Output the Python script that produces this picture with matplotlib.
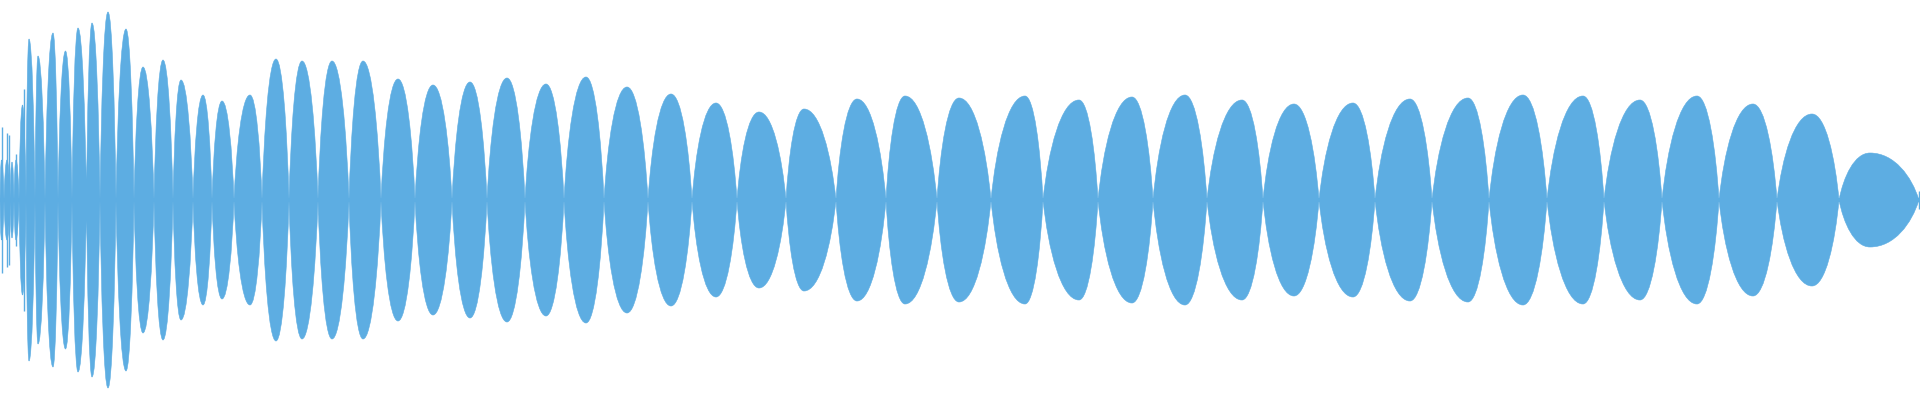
import matplotlib
matplotlib.use("Agg")
import matplotlib.pyplot as plt
from matplotlib.path import Path
from matplotlib.patches import PathPatch

# Waveform envelope (x in pixel-time bins, amplitude as fraction of full scale)
lobe_bounds = [0, 4, 10, 14, 19, 26, 35, 45, 58, 72, 86.5, 100,
               116, 134, 154, 173, 193, 212, 234, 262, 289, 318, 349, 381,
               415, 452, 487, 525, 564, 604, 648, 692, 737, 786, 836, 886,
               937, 991, 1043, 1098, 1153, 1207, 1263, 1319, 1375, 1432, 1489, 1547,
               1604, 1662, 1719, 1777, 1839, 1919]
peak_pos = [1.5, 7, 12, 16, 22.5, 29, 38, 53, 65.5, 78,
            92, 108, 126, 143, 163, 181, 203, 222, 250, 276,
            302, 332, 363, 398, 433, 470, 507, 546, 586, 627,
            671, 716, 759, 804, 857, 905, 959, 1025, 1079, 1132,
            1185, 1242, 1294, 1353, 1410, 1468, 1523, 1583, 1640, 1697,
            1753, 1812, 1870]
peak_amp = [0.20, 0.20, 0.19, 0.20, 0.475, 0.805, 0.72, 0.835, 0.745, 0.86,
            0.885, 0.94, 0.855, 0.665, 0.70, 0.60, 0.525, 0.495, 0.525, 0.705,
            0.695, 0.695, 0.695, 0.605, 0.575, 0.59, 0.61, 0.58, 0.615, 0.565,
            0.53, 0.485, 0.44, 0.455, 0.505, 0.52, 0.51, 0.52, 0.50, 0.515,
            0.525, 0.50, 0.48, 0.485, 0.505, 0.51, 0.525, 0.52, 0.50, 0.52,
            0.48, 0.43, 0.235]
spike_pos = [1.5, 6.5, 8.5, 15.5, 23.5, 319, 1919]
spike_amp = [0.365, 0.335, 0.325, 0.23, 0.555, 0.075, 0.045]
floor_amp = 0.012

color = "#5DADE2"
# shape of each half-lobe (cubic Bezier handles as fractions of half-width / height)
h1x, h1y, h2x = 0.15, 0.5, 0.5

fig = plt.figure(figsize=(19.2, 4.0), dpi=100)
ax = fig.add_axes([0, 0, 1, 1])
ax.set_xlim(0, 1920)
ax.set_ylim(-1, 1)
ax.axis("off")

verts, codes = [], []
for i in range(len(peak_pos)):
    x0, x1 = lobe_bounds[i], lobe_bounds[i + 1]
    xp, h = peak_pos[i], peak_amp[i]
    wl, wr = xp - x0, x1 - xp
    v = [(x0, 0)]
    for s in (1, -1):
        hh = s * h
        if s == 1:
            v += [(x0 + h1x * wl, h1y * hh), (x0 + h2x * wl, hh), (xp, hh),
                  (x1 - h2x * wr, hh), (x1 - h1x * wr, h1y * hh), (x1, 0)]
        else:
            v += [(x1 - h1x * wr, h1y * hh), (x1 - h2x * wr, hh), (xp, hh),
                  (x0 + h2x * wl, hh), (x0 + h1x * wl, h1y * hh), (x0, 0)]
    v += [(x0, 0)]
    verts += v
    codes += [Path.MOVETO] + [Path.CURVE4] * 12 + [Path.CLOSEPOLY]
ax.add_patch(PathPatch(Path(verts, codes), facecolor=color, edgecolor=color, linewidth=0.4))

ax.fill_between([lobe_bounds[0], lobe_bounds[-1]], -floor_amp, floor_amp, color=color, linewidth=0)
ax.vlines(spike_pos, [-a for a in spike_amp], spike_amp, color=color, linewidth=1.0)

fig.savefig("out.png", dpi=100, facecolor="white")
